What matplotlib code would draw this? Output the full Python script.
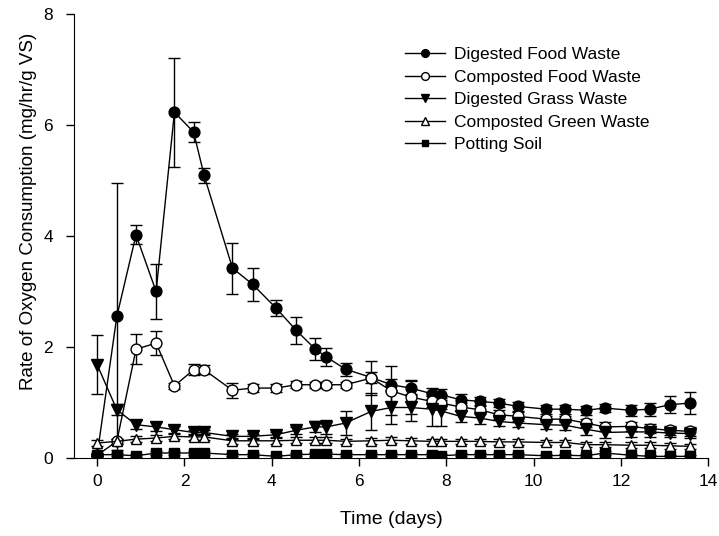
import matplotlib
matplotlib.use("Agg")
import matplotlib.pyplot as plt

plt.rcParams['font.family'] = ['Liberation Sans', 'DejaVu Sans']

time = [0, 0.45, 0.89, 1.35, 1.77, 2.21, 2.45, 3.1, 3.56, 4.1, 4.56, 5.0, 5.25, 5.69,
        6.28, 6.74, 7.18, 7.66, 7.87, 8.33, 8.76, 9.2, 9.64, 10.29, 10.73, 11.19,
        11.63, 12.22, 12.66, 13.12, 13.58]

digested_food = [0.06, 2.55, 4.02, 3.0, 6.23, 5.87, 5.09, 3.42, 3.13, 2.70, 2.30, 1.96, 1.82,
                 1.60, 1.45, 1.32, 1.26, 1.16, 1.14, 1.05, 1.02, 0.99, 0.93, 0.88, 0.88, 0.86,
                 0.90, 0.86, 0.88, 0.96, 0.99]
digested_food_err = [0.02, 2.4, 0.17, 0.5, 0.98, 0.18, 0.14, 0.46, 0.3, 0.15, 0.24, 0.2, 0.17,
                     0.12, 0.1, 0.1, 0.12, 0.1, 0.1, 0.1, 0.08, 0.08, 0.08, 0.08, 0.08, 0.08,
                     0.08, 0.1, 0.12, 0.15, 0.2]

composted_food = [0.05, 0.3, 1.96, 2.07, 1.30, 1.59, 1.59, 1.22, 1.26, 1.26, 1.32, 1.32, 1.32,
                  1.32, 1.44, 1.21, 1.10, 1.02, 0.99, 0.92, 0.87, 0.78, 0.75, 0.70, 0.70, 0.63,
                  0.56, 0.57, 0.53, 0.50, 0.48]
composted_food_err = [0.02, 0.05, 0.27, 0.21, 0.06, 0.1, 0.08, 0.14, 0.07, 0.07, 0.06, 0.05,
                      0.05, 0.05, 0.3, 0.44, 0.3, 0.1, 0.1, 0.08, 0.08, 0.08, 0.08, 0.06, 0.06,
                      0.08, 0.08, 0.08, 0.08, 0.08, 0.08]

digested_grass = [1.68, 0.87, 0.60, 0.56, 0.51, 0.46, 0.46, 0.39, 0.39, 0.42, 0.50, 0.56, 0.56,
                  0.63, 0.84, 0.91, 0.91, 0.88, 0.85, 0.75, 0.72, 0.66, 0.63, 0.60, 0.59, 0.52,
                  0.46, 0.47, 0.47, 0.45, 0.44]
digested_grass_err = [0.53, 0.1, 0.08, 0.08, 0.06, 0.05, 0.05, 0.05, 0.05, 0.05, 0.06, 0.1,
                      0.12, 0.22, 0.33, 0.3, 0.25, 0.3, 0.28, 0.1, 0.1, 0.08, 0.08, 0.08, 0.08,
                      0.1, 0.1, 0.1, 0.1, 0.08, 0.08]

composted_green = [0.27, 0.30, 0.34, 0.36, 0.39, 0.38, 0.38, 0.31, 0.31, 0.31, 0.32, 0.32, 0.32,
                   0.30, 0.31, 0.32, 0.31, 0.30, 0.30, 0.30, 0.30, 0.29, 0.29, 0.28, 0.28, 0.24,
                   0.24, 0.23, 0.23, 0.22, 0.21]
composted_green_err = [0.05] * 31

potting_soil = [0.06, 0.06, 0.04, 0.09, 0.09, 0.09, 0.09, 0.06, 0.06, 0.03, 0.06, 0.07, 0.07,
                0.06, 0.06, 0.06, 0.06, 0.06, 0.04, 0.06, 0.06, 0.06, 0.06, 0.04, 0.05, 0.04,
                0.09, 0.05, 0.03, 0.03, 0.03]
potting_soil_err = [0.03] * 31

labels = ["Digested Food Waste", "Composted Food Waste", "Digested Grass Waste",
          "Composted Green Waste", "Potting Soil"]

fig = plt.figure(figsize=(7.19, 5.36), dpi=100)
ax = fig.add_axes([0.103, 0.1455, 0.882, 0.8285])

series = [
    (digested_food, digested_food_err, 'o', 'black', 7.8),
    (composted_food, composted_food_err, 'o', 'white', 7.8),
    (digested_grass, digested_grass_err, 'v', 'black', 8.3),
    (composted_green, composted_green_err, '^', 'white', 7.8),
    (potting_soil, potting_soil_err, 's', 'black', 6.8),
]

handles = []
for (vals, err, mk, fc, ms), lab in zip(series, labels):
    cont = ax.errorbar(time, vals, yerr=err, marker=mk, markersize=ms, markerfacecolor=fc,
                       markeredgecolor='black', markeredgewidth=1.0, color='black',
                       linewidth=1.0, elinewidth=1.0, capsize=4.5, capthick=1.0, label=lab)
    handles.append(cont[0])

ax.set_xlim(-0.53, 14)
ax.set_ylim(0, 8)
ax.set_xticks([0, 2, 4, 6, 8, 10, 12, 14])
ax.set_yticks([0, 2, 4, 6, 8])
ax.spines['top'].set_visible(False)
ax.spines['right'].set_visible(False)
ax.tick_params(direction='out', length=6, width=1, labelsize=12.5)
ax.tick_params(axis='x', pad=5.5)
ax.tick_params(axis='y', pad=9)
ax.set_xlabel("Time (days)", fontsize=14, labelpad=16)
ax.set_ylabel("Rate of Oxygen Consumption (mg/hr/g VS)", fontsize=13.5)
ax.yaxis.set_label_coords(-0.058, 0.556)

leg = fig.legend(handles, labels, loc='upper left', bbox_to_anchor=(0.563, 0.912),
                 bbox_transform=fig.transFigure, frameon=False, fontsize=12.5,
                 handlelength=2.3, handletextpad=0.55, labelspacing=0.42,
                 borderpad=0, borderaxespad=0, markerscale=0.72)

fig.savefig("out.png", dpi=100)
